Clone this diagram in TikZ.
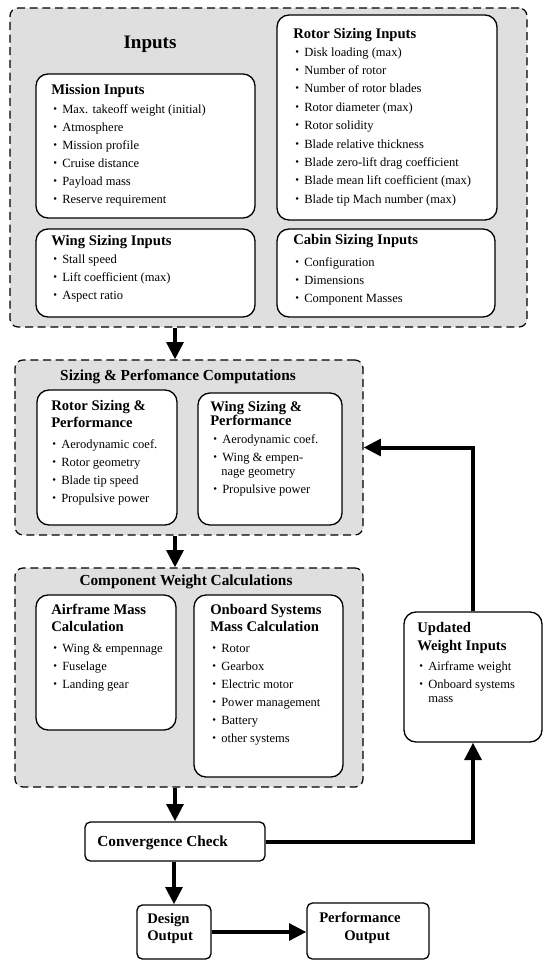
\documentclass[tikz,border=0pt]{standalone}
\usepackage{fontspec}
\setmainfont{Liberation Serif}
\usetikzlibrary{arrows.meta,fit}
\newcommand\mybul{\makebox[6.75pt][l]{\raisebox{0.15ex}{\scalebox{0.85}{\textbullet}}}}
\tikzset{
  grp/.style={draw=black, fill=gray!25, line width=0.9pt, dash pattern=on 6pt off 3.5pt, rounded corners=6pt, inner sep=0pt},
  wbox/.style={draw=black, fill=white, line width=1pt, rounded corners=9pt, inner sep=0pt},
  sbox/.style={wbox, rounded corners=4pt},
  hdr/.style={anchor=base west, inner sep=0pt, font=\fontsize{11}{13}\selectfont\bfseries},
  ttl/.style={anchor=base, inner sep=0pt, font=\fontsize{11.5}{14}\selectfont\bfseries},
  itm/.style={anchor=base west, inner sep=0pt, font=\fontsize{9.4}{11}\selectfont},
  conn/.style={line width=3pt, -{Triangle[length=13pt,width=12.5pt]}},
}
\begin{document}
\begin{tikzpicture}[x=0.75pt,y=-0.75pt]
\useasboundingbox (0,0) rectangle (550,968);

% group boxes
\node[grp, fit={(10,8) (527,327)}] (inputs) {};
\node[grp, fit={(15,360) (363,535)}] (sizing) {};
\node[grp, fit={(15,568) (363,787)}] (comp) {};

% white boxes
\node[wbox, fit={(36,74) (255,218)}] (mission) {};
\node[wbox, fit={(36,229) (255,317)}] (wingin) {};
\node[wbox, fit={(277,15) (497,220)}] (rotorin) {};
\node[wbox, fit={(277,229) (495,317)}] (cabin) {};
\node[wbox, fit={(37,390) (177,525)}] (rotorsp) {};
\node[wbox, fit={(198,393) (342,525)}] (wingsp) {};
\node[wbox, fit={(36,595) (176,730)}] (airframe) {};
\node[wbox, fit={(194,595) (343,777)}] (onboard) {};
\node[sbox, fit={(85,822) (265,861)}] (conv) {};
\node[sbox, fit={(137,905) (211,959)}] (design) {};
\node[sbox, fit={(307,903) (429,959)}] (perf) {};
\node[wbox, fit={(404,612) (542,742)}] (upd) {};

% Inputs
\node[anchor=base, inner sep=0pt, font=\fontsize{14.3}{16}\selectfont\bfseries] (inT) at (150,48) {Inputs};

\node[hdr] (missionH) at (51,94) {Mission Inputs};
\node[itm] (m1) at (53,113) {\mybul Max. takeoff weight (initial)};
\node[itm] (m2) at (53,131) {\mybul Atmosphere};
\node[itm] (m3) at (53,149) {\mybul Mission profile};
\node[itm] (m4) at (53,167) {\mybul Cruise distance};
\node[itm] (m5) at (53,185) {\mybul Payload mass};
\node[itm] (m6) at (53,203) {\mybul Reserve requirement};

\node[hdr] (wingH) at (51,245) {Wing Sizing Inputs};
\node[itm] (w1) at (53,263) {\mybul Stall speed};
\node[itm] (w2) at (53,281) {\mybul Lift coefficient (max)};
\node[itm] (w3) at (53,299) {\mybul Aspect ratio};

\node[hdr] (rotorH) at (293,38) {Rotor Sizing Inputs};
\node[itm] (r1) at (295,56) {\mybul Disk loading (max)};
\node[itm] (r2) at (295,74.4) {\mybul Number of rotor};
\node[itm] (r3) at (295,92.8) {\mybul Number of rotor blades};
\node[itm] (r4) at (295,111.2) {\mybul Rotor diameter (max)};
\node[itm] (r5) at (295,129.6) {\mybul Rotor solidity};
\node[itm] (r6) at (295,148) {\mybul Blade relative thickness};
\node[itm] (r7) at (295,166.4) {\mybul Blade zero-lift drag coefficient};
\node[itm] (r8) at (295,184.8) {\mybul Blade mean lift coefficient (max)};
\node[itm] (r9) at (295,203.2) {\mybul Blade tip Mach number (max)};

\node[hdr] (cabinH) at (293,244) {Cabin Sizing Inputs};
\node[itm] (c1) at (295,266) {\mybul Configuration};
\node[itm] (c2) at (295,284) {\mybul Dimensions};
\node[itm] (c3) at (295,302) {\mybul Component Masses};

% Sizing & Performance
\node[ttl] (sizT) at (178,380) {Sizing \& Perfomance Computations};
\node[hdr] (rspH1) at (51,410) {Rotor Sizing \&};
\node[hdr] (rspH2) at (51,427) {Performance};
\node[itm] (rs1) at (52,448) {\mybul Aerodynamic coef.};
\node[itm] (rs2) at (52,466) {\mybul Rotor geometry};
\node[itm] (rs3) at (52,484) {\mybul Blade tip speed};
\node[itm] (rs4) at (52,502) {\mybul Propulsive power};

\node[hdr] (wspH1) at (210,411) {Wing Sizing \&};
\node[hdr] (wspH2) at (210,425) {Performance};
\node[itm] (ws1) at (213,443) {\mybul Aerodynamic coef.};
\node[itm] (ws2) at (213,461) {\mybul Wing \& empen-};
\node[itm] (ws2b) at (221,475) {nage geometry};
\node[itm] (ws3) at (213,493) {\mybul Propulsive power};

% Component weight
\node[ttl] (compT) at (186,585) {Component Weight Calculations};
\node[hdr] (afH1) at (51,614) {Airframe Mass};
\node[hdr] (afH2) at (51,631) {Calculation};
\node[itm] (a1) at (53,652) {\mybul Wing \& empennage};
\node[itm] (a2) at (53,670) {\mybul Fuselage};
\node[itm] (a3) at (53,688) {\mybul Landing gear};

\node[hdr] (obH1) at (210,614) {Onboard Systems};
\node[hdr] (obH2) at (210,631) {Mass Calculation};
\node[itm] (o1) at (212,652) {\mybul Rotor};
\node[itm] (o2) at (212,670) {\mybul Gearbox};
\node[itm] (o3) at (212,688) {\mybul Electric motor};
\node[itm] (o4) at (212,706) {\mybul Power management};
\node[itm] (o5) at (212,724) {\mybul Battery};
\node[itm] (o6) at (212,742) {\mybul other systems};

% Updated weight inputs
\node[hdr] (updH1) at (417,632) {Updated};
\node[hdr] (updH2) at (417,650) {Weight Inputs};
\node[itm] (u1) at (419,670) {\mybul Airframe weight};
\node[itm] (u2) at (419,688) {\mybul Onboard systems};
\node[itm] (u2b) at (428,702) {mass};

% bottom
\node[hdr, font=\fontsize{11.5}{14}\selectfont\bfseries] (convT) at (97,846) {Convergence Check};
\node[hdr] (desT1) at (147,923) {Design};
\node[hdr] (desT2) at (147,940) {Output};
\node[hdr] (perT1) at (319,922) {Performance};
\node[hdr] (perT2) at (344,940) {Output};

% connectors
\draw[conn] (inputs.south -| conv.north) -- (sizing.north -| conv.north);
\draw[conn] (sizing.south -| conv.north) -- (comp.north -| conv.north);
\draw[conn] (comp.south -| conv.north) -- (conv.north);
\draw[conn] (conv.south -| design.north) -- (design.north);
\draw[conn] (design.east) -- (design.east -| perf.west);
\draw[conn] (conv.east) -| (upd.south);
\draw[conn] (upd.north) |- (sizing.east);
\end{tikzpicture}
\end{document}
